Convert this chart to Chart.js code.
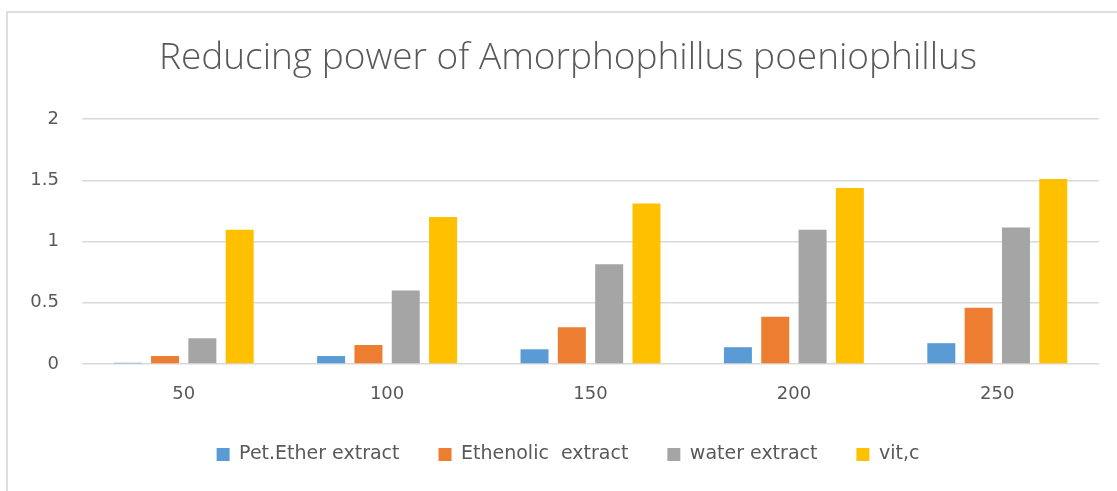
<!DOCTYPE html>
<html>
<head>
<meta charset="utf-8">
<script src="https://cdn.jsdelivr.net/npm/chart.js@4"></script>
<style>
  body { margin: 0; background: #fff; overflow: hidden; }
  #wrap { position: absolute; left: 6px; top: 11px; width: 1120px; height: 482px; border: 2px solid #dedede; }
  canvas { display: block; }
</style>
</head>
<body>
<div id="wrap"><canvas id="reducingChart" width="1120" height="476"></canvas></div>
<script>
const categories = ["50", "100", "150", "200", "250"];
const petEther = [0.01, 0.065, 0.12, 0.137, 0.17];
const ethenolic = [0.065, 0.155, 0.3, 0.385, 0.46];
const water = [0.21, 0.6, 0.815, 1.095, 1.115];
const vitC = [1.095, 1.2, 1.31, 1.436, 1.51];
const yTicks = [0, 0.5, 1, 1.5, 2];

const textColor = "#595959";
const tickFont = { family: "DejaVu Sans", size: 18 };

document.addEventListener("DOMContentLoaded", function () {
  const canvas = document.getElementById("reducingChart");

  const ds = (label, data, color) => ({
    label,
    data,
    backgroundColor: color,
    borderWidth: 0,
    categoryPercentage: 0.734,
    barPercentage: 0.75
  });

  new Chart(canvas, {
    type: "bar",
    data: {
      labels: categories,
      datasets: [
        ds("Pet.Ether extract", petEther, "#5b9bd5"),
        ds("Ethenolic  extract", ethenolic, "#ed7d31"),
        ds("water extract", water, "#a5a5a5"),
        ds("vit,c", vitC, "#ffc000")
      ]
    },
    options: {
      responsive: false,
      animation: false,
      layout: { padding: { left: 0, right: 0, top: 0, bottom: 15 } },
      plugins: {
        title: {
          display: true,
          text: "Reducing power of Amorphophillus poeniophillus",
          color: textColor,
          font: { family: "Open Sans", size: 37, weight: 300 },
          padding: { top: 23.5, bottom: 38.1 }
        },
        legend: {
          position: "bottom",
          labels: {
            color: textColor,
            font: { family: "DejaVu Sans", size: 19 },
            boxWidth: 13,
            boxHeight: 13,
            padding: 39
          }
        },
        tooltip: { enabled: false }
      },
      scales: {
        x: {
          grid: { display: false },
          border: { display: false },
          ticks: { color: textColor, font: tickFont, padding: 12 },
          afterFit: s => { s.height = 42; }
        },
        y: {
          min: 0,
          max: 2,
          afterBuildTicks: s => { s.ticks = yTicks.map(v => ({ value: v })); },
          afterFit: s => { s.width = 74; },
          ticks: { color: textColor, font: tickFont, padding: 23, callback: v => String(v) },
          grid: { color: "#d9d9d9", lineWidth: 1.5, drawTicks: false },
          border: { display: false }
        },
        // empty right-hand margin so title and legend stay centred on the full box
        yRight: {
          position: "right",
          grid: { display: false, drawTicks: false },
          ticks: { display: false },
          border: { display: false },
          afterFit: s => { s.width = 29; }
        }
      }
    }
  });
});
</script>
</body>
</html>
